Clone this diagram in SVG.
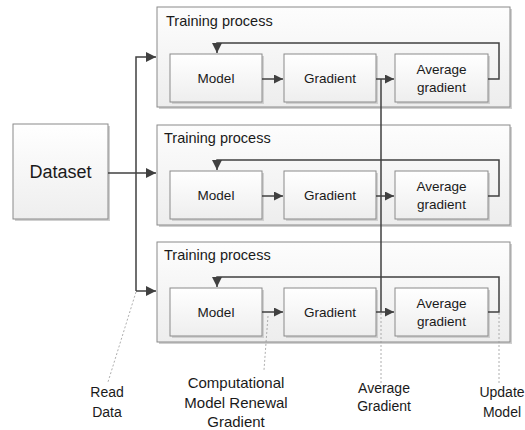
<svg xmlns="http://www.w3.org/2000/svg" width="525" height="430" viewBox="0 0 525 430">
<style>
.cont{fill:url(#gc);stroke:#8a8a8a;stroke-width:1}
.box{fill:url(#gb);stroke:#8a8a8a;stroke-width:1}
.sh{fill:#d0d0d0}
.t{font-family:"Liberation Sans",Arial,sans-serif;fill:#1a1a1a}
.tl{font-size:14.5px}
.nl{font-size:13.5px;text-anchor:middle}
.lb{font-size:14px;text-anchor:middle}
.lc{font-size:15px;text-anchor:middle}
.ln{fill:none;stroke:#404040;stroke-width:1.5}
.dl{fill:none;stroke:#999;stroke-width:0.8;stroke-dasharray:2,2}
</style>
<defs>
<linearGradient id="gc" x1="0" y1="0" x2="0" y2="1"><stop offset="0" stop-color="#fdfdfd"/><stop offset="1" stop-color="#ededed"/></linearGradient>
<linearGradient id="gb" x1="0" y1="0" x2="0" y2="1"><stop offset="0" stop-color="#ffffff"/><stop offset="1" stop-color="#eeeeee"/></linearGradient>
<marker id="ar" viewBox="0 0 10 10" refX="10" refY="5" markerWidth="9" markerHeight="9" orient="auto" markerUnits="userSpaceOnUse"><path d="M0,0 L10,5 L0,10 z" fill="#404040"/></marker>
<marker id="arb" viewBox="0 0 10 10" refX="10" refY="5" markerWidth="10" markerHeight="10" orient="auto" markerUnits="userSpaceOnUse"><path d="M0,0 L10,5 L0,10 z" fill="#404040"/></marker>
</defs>

<g id="dataset">
<rect class="sh" x="15" y="126" width="95" height="95"/>
<rect class="box" x="13" y="124" width="95" height="95"/>
<text class="t" x="60.5" y="178" font-size="18" text-anchor="middle">Dataset</text>
</g>

<g id="process1">
<rect class="sh" x="159" y="9" width="353" height="100"/>
<rect class="cont" x="157" y="7" width="353" height="100"/>
<text class="t tl" x="166" y="26">Training process</text>
</g>
<g id="process2">
<rect class="sh" x="159" y="127" width="353" height="100"/>
<rect class="cont" x="157" y="125" width="353" height="100"/>
<text class="t tl" x="164" y="143">Training process</text>
</g>
<g id="process3">
<rect class="sh" x="159" y="244" width="353" height="100"/>
<rect class="cont" x="157" y="242" width="353" height="100"/>
<text class="t tl" x="164" y="260">Training process</text>
</g>

<g id="model1"><rect class="sh" x="172" y="56" width="92" height="48"/><rect class="box" x="170" y="54" width="92" height="48"/><text class="t nl" x="216" y="83">Model</text></g>
<g id="gradient1"><rect class="sh" x="286" y="56" width="92" height="48"/><rect class="box" x="284" y="54" width="92" height="48"/><text class="t nl" x="330" y="83">Gradient</text></g>
<g id="avg1"><rect class="sh" x="397" y="56" width="93" height="48"/><rect class="box" x="395" y="54" width="93" height="48"/><text class="t nl" x="441.5" y="74">Average</text><text class="t nl" x="441.5" y="92">gradient</text></g>

<g id="model2"><rect class="sh" x="172" y="173" width="92" height="48"/><rect class="box" x="170" y="171" width="92" height="48"/><text class="t nl" x="216" y="200">Model</text></g>
<g id="gradient2"><rect class="sh" x="286" y="173" width="92" height="48"/><rect class="box" x="284" y="171" width="92" height="48"/><text class="t nl" x="330" y="200">Gradient</text></g>
<g id="avg2"><rect class="sh" x="397" y="173" width="93" height="48"/><rect class="box" x="395" y="171" width="93" height="48"/><text class="t nl" x="441.5" y="191">Average</text><text class="t nl" x="441.5" y="209">gradient</text></g>

<g id="model3"><rect class="sh" x="172" y="290" width="92" height="48"/><rect class="box" x="170" y="288" width="92" height="48"/><text class="t nl" x="216" y="317">Model</text></g>
<g id="gradient3"><rect class="sh" x="286" y="290" width="92" height="48"/><rect class="box" x="284" y="288" width="92" height="48"/><text class="t nl" x="330" y="317">Gradient</text></g>
<g id="avg3"><rect class="sh" x="397" y="290" width="93" height="48"/><rect class="box" x="395" y="288" width="93" height="48"/><text class="t nl" x="441.5" y="308">Average</text><text class="t nl" x="441.5" y="326">gradient</text></g>

<g id="connectors">
<path class="ln" d="M108,173 H156" marker-end="url(#arb)"/>
<path class="ln" d="M136,291 V57 H156" marker-end="url(#arb)"/>
<path class="ln" d="M136,291 H156" marker-end="url(#arb)"/>

<path class="ln" d="M262,79 H283" marker-end="url(#ar)"/>
<path class="ln" d="M376,79 H394" marker-end="url(#ar)"/>
<path class="ln" d="M488,79 H499 V43 H217 V53" marker-end="url(#arb)"/>

<path class="ln" d="M262,196 H283" marker-end="url(#ar)"/>
<path class="ln" d="M376,196 H394" marker-end="url(#ar)"/>
<path class="ln" d="M488,196 H499 V160 H217 V170" marker-end="url(#arb)"/>

<path class="ln" d="M262,312 H283" marker-end="url(#ar)"/>
<path class="ln" d="M376,312 H394" marker-end="url(#ar)"/>
<path class="ln" d="M488,312 H499 V277 H217 V287" marker-end="url(#arb)"/>

<path class="ln" d="M381,79 V312"/>

<path class="dl" d="M136,292 L108,382"/>
<path class="dl" d="M268,316 L264,370"/>
<path class="dl" d="M381,313 V383"/>
<path class="dl" d="M499,313 V385"/>
</g>

<g id="labels">
<text class="t lb" x="107" y="397">Read</text>
<text class="t lb" x="107" y="417">Data</text>
<text class="t lc" x="236" y="388">Computational</text>
<text class="t lc" x="236" y="408">Model Renewal</text>
<text class="t lc" x="236" y="427">Gradient</text>
<text class="t lb" x="384" y="393">Average</text>
<text class="t lb" x="384" y="411">Gradient</text>
<text class="t lb" x="502" y="397">Update</text>
<text class="t lb" x="502" y="417">Model</text>
</g>
</svg>
